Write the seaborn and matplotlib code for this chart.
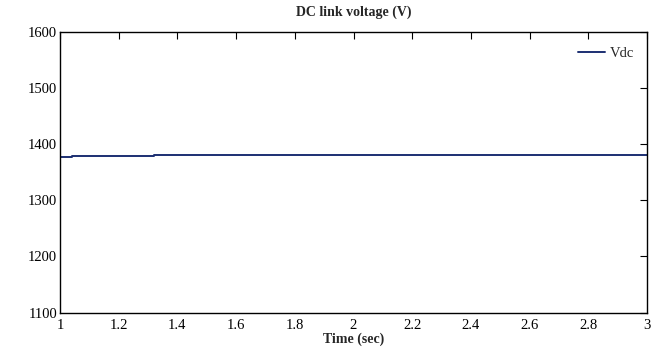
import matplotlib
matplotlib.use("Agg")
import matplotlib.pyplot as plt
import seaborn as sns
import pandas as pd

# Data
time_sec = [1.0, 1.04, 1.04, 1.32, 1.32, 3.0]
vdc = [1377.0, 1377.0, 1378.5, 1378.5, 1380.0, 1380.0]
x_ticks = [1, 1.2, 1.4, 1.6, 1.8, 2, 2.2, 2.4, 2.6, 2.8, 3]
y_ticks = [1100, 1200, 1300, 1400, 1500, 1600]

sns.set_style("white")
plt.rcParams['font.family'] = ['Liberation Serif', 'DejaVu Serif']

df = pd.DataFrame({"Time (sec)": time_sec, "Vdc": vdc})

fig = plt.figure(figsize=(6.72, 3.49), dpi=100)
ax = fig.add_axes([60/672, (349-312.5)/349, (647-60)/672, (312.5-32)/349])

sns.lineplot(data=df, x="Time (sec)", y="Vdc", ax=ax, estimator=None, sort=False,
             color="#1c2f72", linewidth=1.4, label="Vdc")

ax.set_xlim(1, 3)
ax.set_ylim(1100, 1600)
ax.set_xticks(x_ticks)
ax.set_xticklabels([f"{t:g}" for t in x_ticks])
ax.set_yticks(y_ticks)
ax.set_yticklabels([str(t) for t in y_ticks])
ax.tick_params(axis="x", direction="in", top=True, length=5, width=0.8,
               labelsize=10.5, colors="black", pad=5)
ax.tick_params(axis="y", direction="in", right=True, length=5, width=0.8,
               labelsize=10.5, colors="black", pad=2)
for s in ax.spines.values():
    s.set_color("black")
    s.set_linewidth(1.0)

ax.set_xlabel("Time (sec)", fontsize=10, fontweight="bold", labelpad=0)
ax.set_ylabel("")
ax.set_title("DC link voltage (V)", fontsize=10, fontweight="bold", pad=12)

leg = ax.legend(loc="upper right", frameon=False, fontsize=10.5, handlelength=1.9,
                handletextpad=0.3, borderaxespad=0.3, bbox_to_anchor=(0.995, 0.985))

fig.savefig("out.png", dpi=100)
